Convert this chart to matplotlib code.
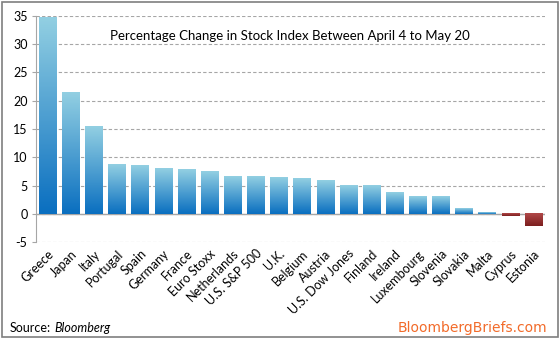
import numpy as np
import matplotlib.pyplot as plt
from matplotlib.colors import LinearSegmentedColormap
from matplotlib.patches import Rectangle

# Data
countries = ['Greece', 'Japan', 'Italy', 'Portugal', 'Spain', 'Germany', 'France',
             'Euro Stoxx', 'Netherlands', 'U.S. S&P 500', 'U.K.', 'Belgium', 'Austria',
             'U.S. Dow Jones', 'Finland', 'Ireland', 'Luxembourg', 'Slovenia',
             'Slovakia', 'Malta', 'Cyprus', 'Estonia']
changes = [34.7, 21.5, 15.5, 8.8, 8.5, 8.1, 7.9, 7.6, 6.7, 6.7, 6.4, 6.2, 6.0,
           5.0, 5.0, 3.8, 3.1, 3.1, 1.0, 0.25, -0.4, -2.2]
yticks = [-5, 0, 5, 10, 15, 20, 25, 30, 35]

plt.rcParams['font.family'] = ['Lato', 'DejaVu Sans']

fig = plt.figure(figsize=(5.6, 3.39), dpi=100)
ax = fig.add_axes([0.064, 0.286, 0.909, 0.667])

blue = LinearSegmentedColormap.from_list('blue', ['#0a6fc0', '#92cfe2'])
red = LinearSegmentedColormap.from_list('red', ['#7c1f1f', '#b04848'])
grad = np.linspace(0, 1, 100).reshape(-1, 1)

ax.axhline(0, color='#a6a6a6', linewidth=1, zorder=2)

x = np.arange(len(countries))
bars = ax.bar(x, changes, width=0.74, color='none', zorder=3)
for b, v in zip(bars, changes):
    x0, w = b.get_x(), b.get_width()
    cmap = blue if v >= 0 else red
    ax.imshow(grad, cmap=cmap, origin='lower', aspect='auto',
              extent=[x0, x0 + w, min(0, v), max(0, v)], zorder=3)

ax.set_xlim(-0.5, len(countries) - 0.5)
ax.set_ylim(-5, 35)
ax.set_yticks(yticks)
ax.set_yticklabels([str(t) for t in yticks], fontsize=9)
ax.yaxis.grid(True, linestyle=(0, (3, 2)), color='#a6a6a6', linewidth=0.8, zorder=0)

ax.set_xticks(x)
ax.set_xticklabels(countries, rotation=45, ha='right', rotation_mode='anchor', fontsize=9)
ax.tick_params(axis='x', length=0, pad=4)
ax.tick_params(axis='y', length=3, color='#a6a6a6', pad=3)

for s in ['top', 'right', 'bottom']:
    ax.spines[s].set_visible(False)
ax.spines['left'].set_color('#a6a6a6')

ax.text(0.5, 0.91, 'Percentage Change in Stock Index Between April 4 to May 20',
        transform=ax.transAxes, ha='center', va='center', fontsize=9.5)

fig.text(0.018, 0.033, 'Source:', fontsize=9, ha='left', va='center')
fig.text(0.097, 0.033, 'Bloomberg', fontsize=9, style='italic', ha='left', va='center')
fig.text(0.978, 0.033, 'BloombergBriefs.com', fontsize=10, color='#f26b2a',
         ha='right', va='center', family='DejaVu Sans')

fig.patches.append(Rectangle((0.004, 0.006), 0.992, 0.988, transform=fig.transFigure,
                             fill=False, edgecolor='#7f7f7f', linewidth=1.2))

fig.savefig('out.png', dpi=100)
